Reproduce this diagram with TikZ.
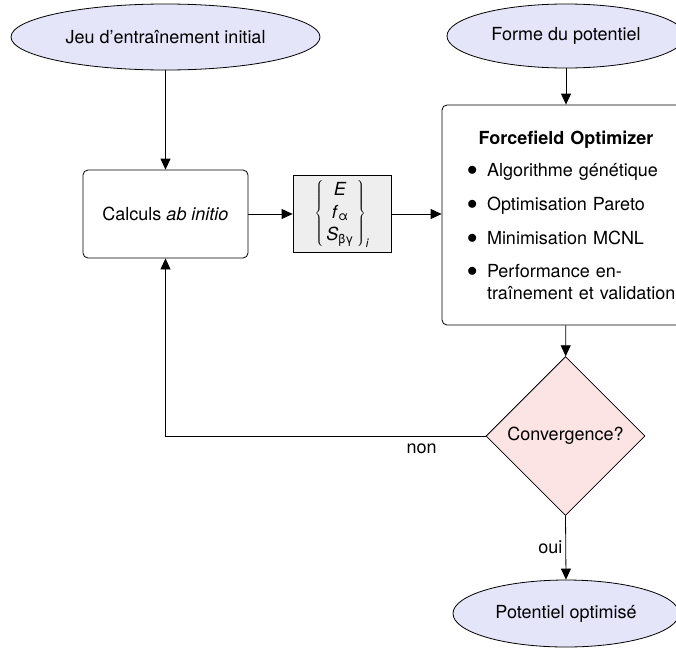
\documentclass[tikz,border=0pt]{standalone}
\usepackage{fontspec}
\setmainfont{TeX Gyre Heros}
\usetikzlibrary{shapes.geometric,arrows.meta}
\definecolor{lav}{HTML}{E5E5FA}
\definecolor{pinkd}{HTML}{FDE4E4}
\definecolor{grayb}{HTML}{EEEEEE}
\newcommand{\bigbul}{\makebox[21pt][l]{\hspace{1pt}\raisebox{0.5pt}{\fontsize{20}{20}\selectfont$\bullet$}}}
\tikzset{
  base/.style={draw=black, line width=0.8pt, font=\fontsize{18}{21}\selectfont},
  oval/.style={base, ellipse, fill=lav, inner sep=0pt},
  roundbox/.style={base, rectangle, rounded corners=5pt, fill=white},
  vecbox/.style={base, rectangle, fill=grayb, inner sep=0pt},
  decision/.style={base, diamond, aspect=1, fill=pinkd, inner sep=0pt},
  arr/.style={line width=0.8pt, -{Triangle[length=11pt,width=10pt]}},
  lbl/.style={font=\fontsize{18}{21}\selectfont, inner sep=3pt}
}
\begin{document}
\begin{tikzpicture}[x=1pt,y=-1pt]
\clip (0,0) rectangle (676,648);
\fill[white] (0,0) rectangle (676,648);
\node[oval, minimum width=309pt, minimum height=66pt] (e1) at (165.5,37) {Jeu d’entraînement initial};
\node[oval, minimum width=238pt, minimum height=64pt] (e2) at (566,36) {Forme du potentiel};
\node[roundbox, minimum width=165pt, minimum height=88pt] (calc) at (165.5,214) {Calculs \textit{ab initio}};
\node[vecbox, minimum width=98pt, minimum height=77pt] (vec) at (342,214)
  {$\left\{\vcenter{\hbox{\begin{tabular}{@{\,}c@{\,}}\textit{E}\\[2pt] \textit{f}\textsubscript{α}\\[1pt] \textit{S}\textsubscript{βγ}\end{tabular}}}\right\}_{\mbox{\fontsize{12}{14}\selectfont\textit{i}}}$};
\node[roundbox, minimum width=248pt, minimum height=220pt, text width=200pt, align=left, inner xsep=24pt] (ff) at (566,215)
  {\makebox[200pt]{\textbf{Forcefield Optimizer}}\\[11pt]
   \mbox{\bigbul Algorithme génétique}\\[13pt]
   \mbox{\bigbul Optimisation Pareto}\\[13pt]
   \mbox{\bigbul Minimisation MCNL}\\[12pt]
   \mbox{\bigbul Performance en-}\\[1pt]
   \mbox{\hspace*{21pt}traînement et validation}};
\node[decision, minimum width=159pt, minimum height=159pt] (dia) at (565.5,436) {Convergence?};
\node[oval, minimum width=226pt, minimum height=67pt] (e3) at (566,613.5) {Potentiel optimisé};
\draw[arr] (e1) -- (calc);
\draw[arr] (e2) -- (ff);
\draw[arr] (calc) -- (vec);
\draw[arr] (vec.east) -- (vec.east -| ff.west);
\draw[arr] (ff) -- (dia);
\draw[arr] (dia.west) -| (calc.south) node[lbl, pos=0.1, below, yshift=-4pt] (non) {non};
\draw[arr] (dia.south) -- (e3.north) node[lbl, pos=0.5, left] (oui) {oui};
\end{tikzpicture}
\end{document}
